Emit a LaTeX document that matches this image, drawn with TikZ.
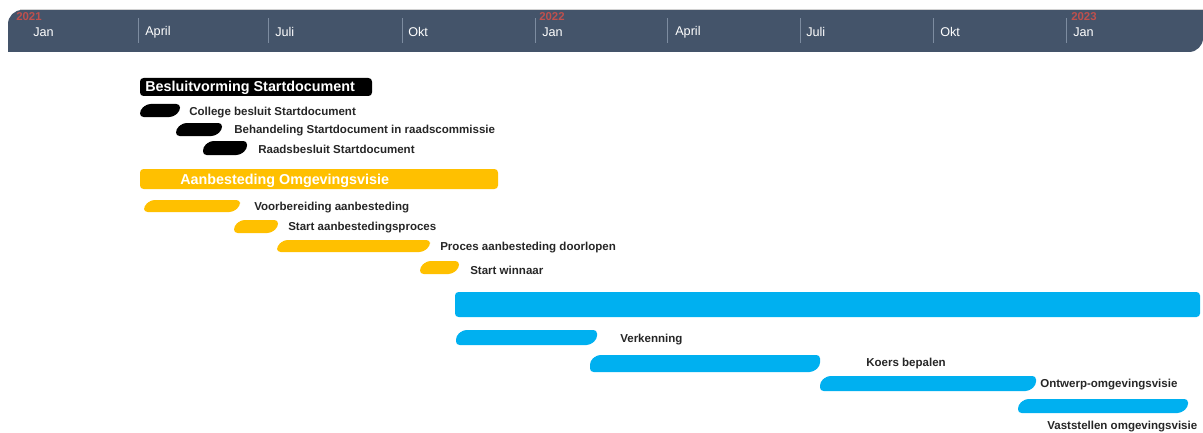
\documentclass[tikz,border=0pt]{standalone}
\usepackage{fontspec}
\setmainfont{Liberation Sans}
\usetikzlibrary{positioning}

\definecolor{headblue}{RGB}{68,84,106}
\definecolor{sepgray}{RGB}{125,140,160}
\definecolor{yearred}{RGB}{192,80,77}
\definecolor{ganttblack}{RGB}{0,0,0}
\definecolor{ganttyellow}{RGB}{255,192,0}
\definecolor{ganttcyan}{RGB}{0,176,240}

\tikzset{
  month/.style={anchor=west, inner sep=0pt, yshift=-1pt, text=white, font=\fontsize{9}{10}\selectfont},
  year/.style={anchor=west, inner sep=0pt, text=yearred, font=\fontsize{8.1}{9}\selectfont\bfseries},
  grouptitle/.style={anchor=west, inner sep=0pt, yshift=-0.5pt, text=white, font=\fontsize{10.2}{11}\selectfont\bfseries},
  tasklabel/.style={anchor=west, inner sep=0pt, yshift=-1pt, text=black!85, font=\fontsize{8.2}{9}\selectfont\bfseries},
  groupbar/.style={rounded corners=2.5pt},
  taskbar/.style={rounded corners=2.5pt}
}

\begin{document}
\begin{tikzpicture}[x=0.025cm, y=-0.025cm]
    \useasboundingbox (0,0) rectangle (1203,433);

    % time axis
    \fill[headblue] (8,52) [rounded corners=10pt] -- (8,10) [sharp corners] -- (1203,10)
      [rounded corners=10pt] -- (1203,52) [sharp corners] -- cycle;
    \draw[gray!35, line width=0.6pt] (20,9.5) -- (1203,9.5);

    \foreach \x in {138, 268, 402, 535, 667, 800, 933, 1066}
      \draw[sepgray, line width=0.5pt] (\x,18) -- (\x,43);

    \foreach \n/\x/\m in {m1/33/Jan, m2/145/April, m3/275/Juli, m4/408/Okt, m5/542/Jan,
                          m6/675/April, m7/806/Juli, m8/940/Okt, m9/1073/Jan}
      \node[month] (\n) at (\x,31) {\m};

    \node[year] (y2021) at (16,17) {2021};
    \node[year] (y2022) at (539,17) {2022};
    \node[year] (y2023) at (1071,17) {2023};

    % group bars
    \fill[ganttblack, groupbar] (140,78) rectangle (372,96);
    \node[grouptitle] (besluit) at (145,87) {Besluitvorming Startdocument};

    \fill[ganttyellow, groupbar] (140,169) rectangle (498,189);
    \node[grouptitle] (aanbesteding) at (180,180) {Aanbesteding Omgevingsvisie};

    \fill[ganttcyan, groupbar] (455,292) rectangle (1200,317);

    % task bars with labels
    \foreach \n/\xa/\xb/\ya/\yb/\col/\lx/\ly/\txt in {
        college/140/180/104/117/ganttblack/189/111/College besluit Startdocument,
        commissie/176/222/123/136/ganttblack/234/129/Behandeling Startdocument in raadscommissie,
        raad/203/247/141/155/ganttblack/258/148/Raadsbesluit Startdocument,
        voorbereiding/144/240/200/212/ganttyellow/254/206/Voorbereiding aanbesteding,
        startproces/234/278/220/233/ganttyellow/288/226/Start aanbestedingsproces,
        doorlopen/277/430/240/252/ganttyellow/440/246/Proces aanbesteding doorlopen,
        winnaar/420/459/261/274/ganttyellow/470/269/Start winnaar,
        verkenning/456/597/330/345/ganttcyan/620/338/Verkenning,
        koers/590/820/355/372/ganttcyan/866/362/Koers bepalen,
        ontwerp/820/1036/376/391/ganttcyan/1040/383/Ontwerp-omgevingsvisie,
        vaststellen/1018/1188/399/413/ganttcyan/1047/425/Vaststellen omgevingsvisie}
    {
      \fill[\col, taskbar] ({\xa+7},\ya) -- (\xb,\ya) -- (\xb,{\yb-6}) -- ({\xb-7},\yb)
        -- (\xa,\yb) -- (\xa,{\ya+6}) -- cycle;
      \node[tasklabel] (\n) at (\lx,\ly) {\txt};
    }
\end{tikzpicture}
\end{document}
